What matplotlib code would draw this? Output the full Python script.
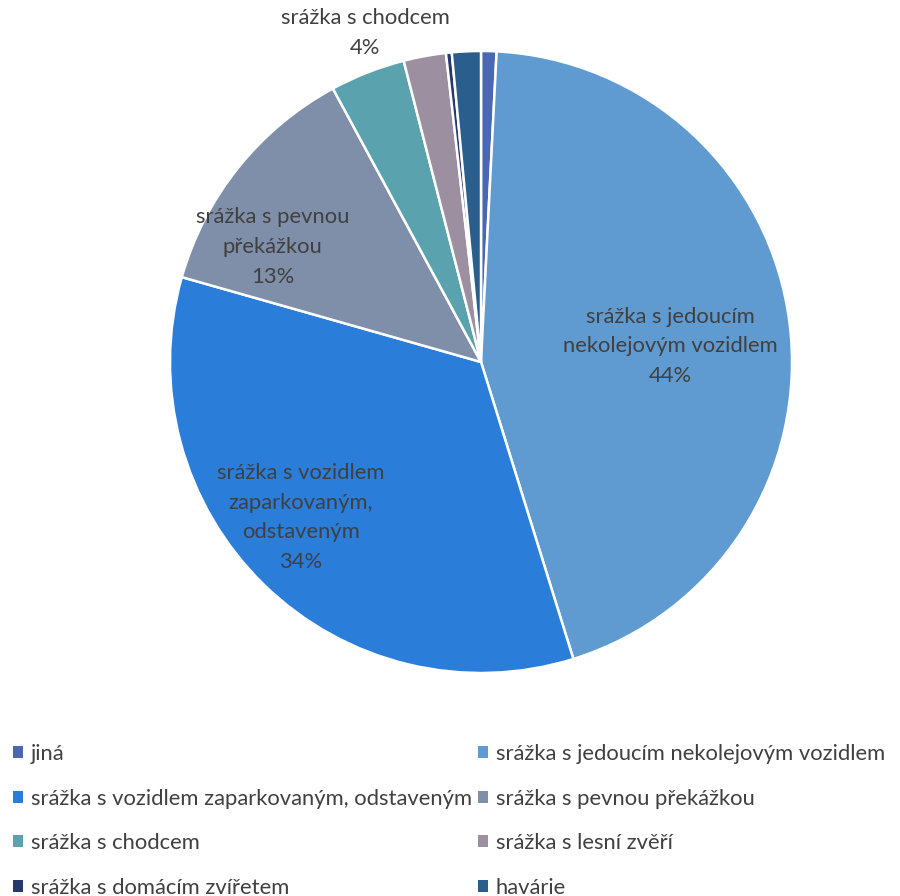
import matplotlib
matplotlib.use('Agg')
import matplotlib.pyplot as plt
from matplotlib.patches import Patch

plt.rcParams['font.family'] = ['Lato', 'DejaVu Sans']

# slices, clockwise from the top
categories = [
    'jiná',
    'srážka s jedoucím nekolejovým vozidlem',
    'srážka s vozidlem zaparkovaným, odstaveným',
    'srážka s pevnou překážkou',
    'srážka s chodcem',
    'srážka s lesní zvěří',
    'srážka s domácím zvířetem',
    'havárie',
]
shares = [0.8, 44.4, 34.2, 12.7, 3.9, 2.2, 0.3, 1.5]
colors = ['#4A67B4', '#5F9BD1', '#2A7DD8', '#7F8FA9',
          '#5AA2AE', '#9C8FA0', '#263A6B', '#2A5E8C']

# which slices get a data label, and their text
slice_labels = {
    1: 'srážka s jedoucím\nnekolejovým vozidlem\n44%',
    2: 'srážka s vozidlem\nzaparkovaným,\nodstaveným\n34%',
    3: 'srážka s pevnou\npřekážkou\n13%',
    4: 'srážka s chodcem\n4%',
}
label_xy = {1: (0.61, 0.05), 2: (-0.58, -0.50), 3: (-0.67, 0.37), 4: (-0.373, 1.058)}

W, H = 900, 896
FS = 15.8
fig = plt.figure(figsize=(W / 100, H / 100), dpi=100)

cx, cy, r = 481, 362, 311
ax = fig.add_axes([(cx - r) / W, (H - cy - r) / H, 2 * r / W, 2 * r / H])
wedges, _ = ax.pie(
    shares,
    colors=colors,
    startangle=90,
    counterclock=False,
    radius=1,
    wedgeprops=dict(edgecolor='white', linewidth=1.8),
)
ax.set_xlim(-1, 1)
ax.set_ylim(-1, 1)
ax.axis('off')

for i, txt in slice_labels.items():
    x, y = label_xy[i]
    ax.text(x, y, txt, ha='center', va='center', fontsize=FS,
            color='#404040', linespacing=1.6, clip_on=False)

# legend in row order, matplotlib fills column by column
order = [0, 2, 4, 6, 1, 3, 5, 7]
handles = [Patch(facecolor=colors[i], edgecolor='none') for i in order]
names = [categories[i] for i in order]
fig.legend(
    handles, names,
    ncol=2,
    loc='upper left',
    bbox_to_anchor=(2 / W, 1 - 733 / H),
    frameon=False,
    fontsize=FS,
    labelcolor='#404040',
    handlelength=0.45,
    handleheight=0.45,
    handletextpad=0.35,
    columnspacing=0.3,
    labelspacing=1.12,
    borderpad=0,
)

fig.savefig('out.png', dpi=100)
